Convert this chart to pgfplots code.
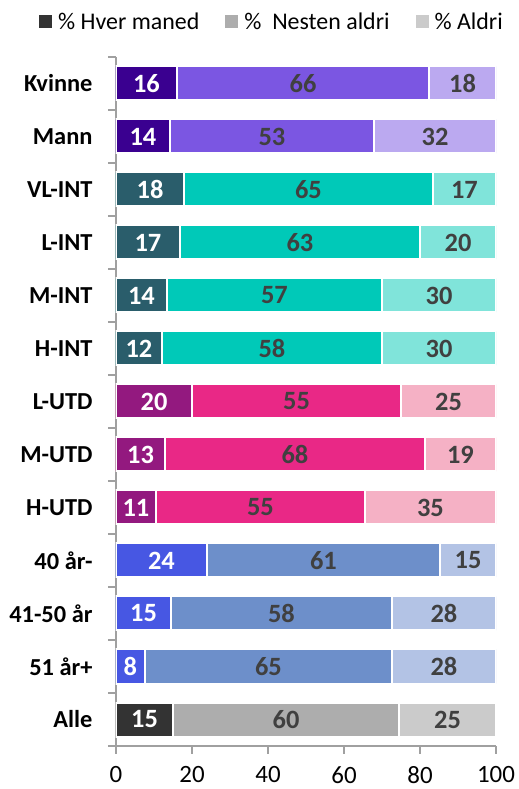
\documentclass[border=0pt]{standalone}
\usepackage{fontspec}
\setmainfont{Carlito}
\usepackage{pgfplots}
\usepackage{pgfplotstable}
\pgfplotsset{compat=1.18}

\definecolor{pu1}{RGB}{58,0,144}
\definecolor{pu2}{RGB}{123,86,226}
\definecolor{pu3}{RGB}{187,169,240}
\definecolor{te1}{RGB}{42,93,107}
\definecolor{te2}{RGB}{0,201,184}
\definecolor{te3}{RGB}{128,228,218}
\definecolor{ma1}{RGB}{147,25,127}
\definecolor{ma2}{RGB}{233,40,134}
\definecolor{ma3}{RGB}{245,177,197}
\definecolor{bl1}{RGB}{71,87,227}
\definecolor{bl2}{RGB}{109,143,202}
\definecolor{bl3}{RGB}{179,195,229}
\definecolor{gr1}{RGB}{51,51,51}
\definecolor{gr2}{RGB}{173,173,173}
\definecolor{gr3}{RGB}{203,203,203}
\definecolor{txt}{RGB}{64,64,64}
\definecolor{axgray}{RGB}{160,160,160}

% rows: 12 = Kvinne (top) ... 0 = Alle (bottom)
% a = % Hver maned, b = % Nesten aldri, c = % Aldri; la/lb/lc = printed labels
\pgfplotstableread{
y a b c la lb lc
12 16.05 66.35 17.6 16 66 18
11 14.2 53.7 32.1 14 53 32
}\kjonn
\pgfplotstableread{
y a b c la lb lc
10 17.9 65.5 16.6 18 65 17
9 16.8 63.2 20.0 17 63 20
8 13.4 56.6 30.0 14 57 30
7 12.1 57.9 30.0 12 58 30
}\intr
\pgfplotstableread{
y a b c la lb lc
6 20.0 55.0 25.0 20 55 25
5 12.9 68.4 18.7 13 68 19
4 10.5 55.0 34.5 11 55 35
}\utd
\pgfplotstableread{
y a b c la lb lc
3 23.9 61.4 14.7 24 61 15
2 14.5 58.1 27.4 15 58 28
1 7.6 65.0 27.4 8 65 28
}\alder
\pgfplotstableread{
y a b c la lb lc
0 15.0 59.5 25.5 15 60 25
}\alle

\pgfplotsset{
  seg/.style n args={3}{fill=#1, draw=white, line width=2bp,
    nodes near coords, point meta=explicit symbolic,
    visualization depends on={\thisrow{#2} \as \w},
    every node near coord/.append style={font=\fontsize{26.5}{26.5}\selectfont\bfseries,
      text=#3, anchor=center, inner sep=0pt, xshift=-1.9bp*\w}},
}

% segments are drawn as overlapping bars from 0: total first, then a+b, then a
\newcommand\grp[5]{%
  \addplot[#5, seg={#4}{c}{txt}] table[x expr=\thisrow{a}+\thisrow{b}+\thisrow{c}, y=y, meta=lc] {#1};
  \addplot[#5, seg={#3}{b}{txt}] table[x expr=\thisrow{a}+\thisrow{b}, y=y, meta=lb] {#1};
  \addplot[#5, seg={#2}{a}{white}] table[x=a, y=y, meta=la] {#1};
}

\begin{document}
\begin{tikzpicture}
\begin{axis}[
  xbar, bar width=34bp, bar shift=0pt,
  scale only axis, width=380bp, height=689bp,
  xmin=0, xmax=100, ymin=-0.5, ymax=12.5,
  axis lines*=left,
  axis line style={draw=axgray, line width=1.3bp},
  tick style={draw=axgray, line width=1.3bp},
  major tick length=8bp, tick align=outside,
  xtick={0,20,...,100},
  xticklabel style={font=\fontsize{25}{25}\selectfont, yshift=-9bp},
  /pgf/number format/assume math mode=true,
  ytick={-0.5,0.5,...,12.5}, yticklabels={},
  extra y ticks={0,...,12},
  extra y tick labels={Alle, 51 år+, 41-50 år, 40 år-, H-UTD, M-UTD, L-UTD, H-INT, M-INT, L-INT, VL-INT, Mann, Kvinne},
  extra y tick style={tick style={draw=none},
    yticklabel style={font=\fontsize{24.5}{24.5}\selectfont\bfseries, xshift=-12bp}},
  reverse legend,
  legend style={at={(0.5,1)}, anchor=center, xshift=-34bp, yshift=35bp, draw=none,
    font=\fontsize{24}{24}\selectfont, legend columns=-1,
    /tikz/every even column/.append style={column sep=24bp}},
  legend image code/.code={\fill[#1, draw=none] (0bp,-6.5bp) rectangle (13bp,6.5bp); \path (16bp,0bp);},
]
\coordinate (O) at (rel axis cs:0,0);
\coordinate (T) at (rel axis cs:1,1);
\grp{\kjonn}{pu1}{pu2}{pu3}{forget plot}
\grp{\intr}{te1}{te2}{te3}{forget plot}
\grp{\utd}{ma1}{ma2}{ma3}{forget plot}
\grp{\alder}{bl1}{bl2}{bl3}{forget plot}
\grp{\alle}{gr1}{gr2}{gr3}{}
\legend{\% Aldri, \%\ \ Nesten aldri, \% Hver maned}
\end{axis}
\pgfresetboundingbox
\path ([shift={(-116bp,-43bp)}]O) rectangle ([shift={(23bp,57bp)}]T);
\end{tikzpicture}
\end{document}
